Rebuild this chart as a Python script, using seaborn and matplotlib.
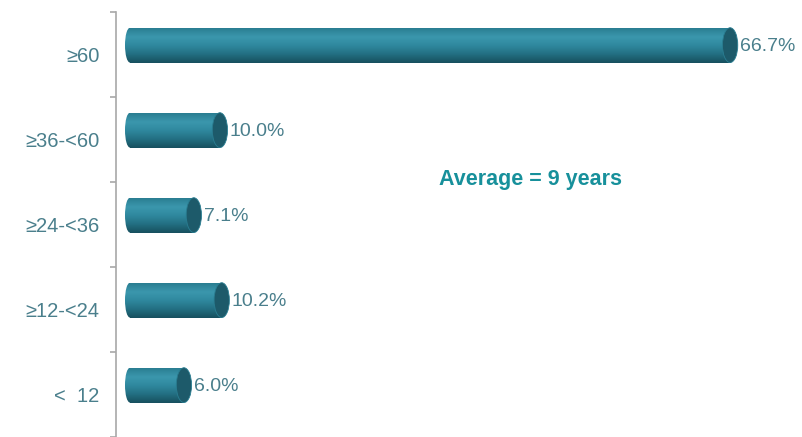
import matplotlib
matplotlib.use("Agg")
import matplotlib.pyplot as plt
from matplotlib.patches import Ellipse
from matplotlib.colors import LinearSegmentedColormap
import numpy as np
import pandas as pd
import seaborn as sns

categories = ["\u226560", "\u226536-<60", "\u226524-<36", "\u226512-<24", "<  12"]
values = [66.7, 10.0, 7.1, 10.2, 6.0]
value_labels = ["66.7%", "10.0%", "7.1%", "10.2%", "6.0%"]
note = "Average = 9 years"

df = pd.DataFrame({"group": categories, "share": values})

sns.set_style("white")
plt.rcParams["font.family"] = ["Liberation Sans", "DejaVu Sans"]

fig = plt.figure(figsize=(8.03, 4.37), dpi=100)
ax = fig.add_axes([116 / 803, 0, 687 / 803, 425 / 437])

bar_h = 0.41
sns.barplot(data=df, x="share", y="group", orient="h", color="#2e8aa0",
            width=bar_h, ax=ax, linewidth=0)

# bars sit a little above the middle of each band
off = 0.11
xlim = (-1.55, 74.8)
ylim = (4.5 + off, -0.5 + off)

# cylinder shading
shade = LinearSegmentedColormap.from_list(
    "cyl", ["#2a7e92", "#3b97ad", "#2f889e", "#236f82", "#17505f"])
grad = np.linspace(0, 1, 64).reshape(-1, 1)
for i, v in enumerate(values):
    y0, y1 = i - bar_h / 2, i + bar_h / 2
    bar = ax.patches[i]
    im = ax.imshow(grad, cmap=shade, aspect="auto", origin="upper",
                   extent=(0, v, y1, y0), zorder=3)
    im.set_clip_path(bar)
    left = Ellipse((0, i), 1.1, bar_h, facecolor="none", edgecolor="none")
    ax.add_patch(left)
    im2 = ax.imshow(grad, cmap=shade, aspect="auto", origin="upper",
                    extent=(-0.6, 0.1, y1, y0), zorder=3)
    im2.set_clip_path(left)
    cap = Ellipse((v, i), 1.7, bar_h, facecolor="#1d5a6a",
                  edgecolor="#2a7e92", linewidth=0.6, zorder=4)
    ax.add_patch(cap)
    ax.text(v + 1.1, i + 0.02, value_labels[i], va="center", ha="left",
            fontsize=14, color="#4a7f8c")

ax.set_xlim(*xlim)
ax.set_ylim(*ylim)

ax.text(44.5, 1.58, note, ha="center", va="center", fontsize=15.5,
        fontweight="bold", color="#17909b")

sns.despine(ax=ax, top=True, right=True, bottom=True, left=False)
ax.spines["left"].set_color("#a8a8a8")
ax.spines["left"].set_linewidth(1.2)
ax.set_xticks([])
ax.set_xlabel("")
ax.set_ylabel("")
ax.set_yticks(np.arange(len(categories)) + off)
ax.set_yticklabels(categories, fontsize=14.5, color="#4a7f8c")
ax.set_yticks(np.arange(-0.5, 4.6, 1.0) + off, minor=True)
ax.tick_params(axis="y", which="major", length=0, pad=12)
ax.tick_params(axis="y", which="minor", length=4, width=1.2, color="#a8a8a8", left=True)

fig.savefig("out.png", dpi=100)
